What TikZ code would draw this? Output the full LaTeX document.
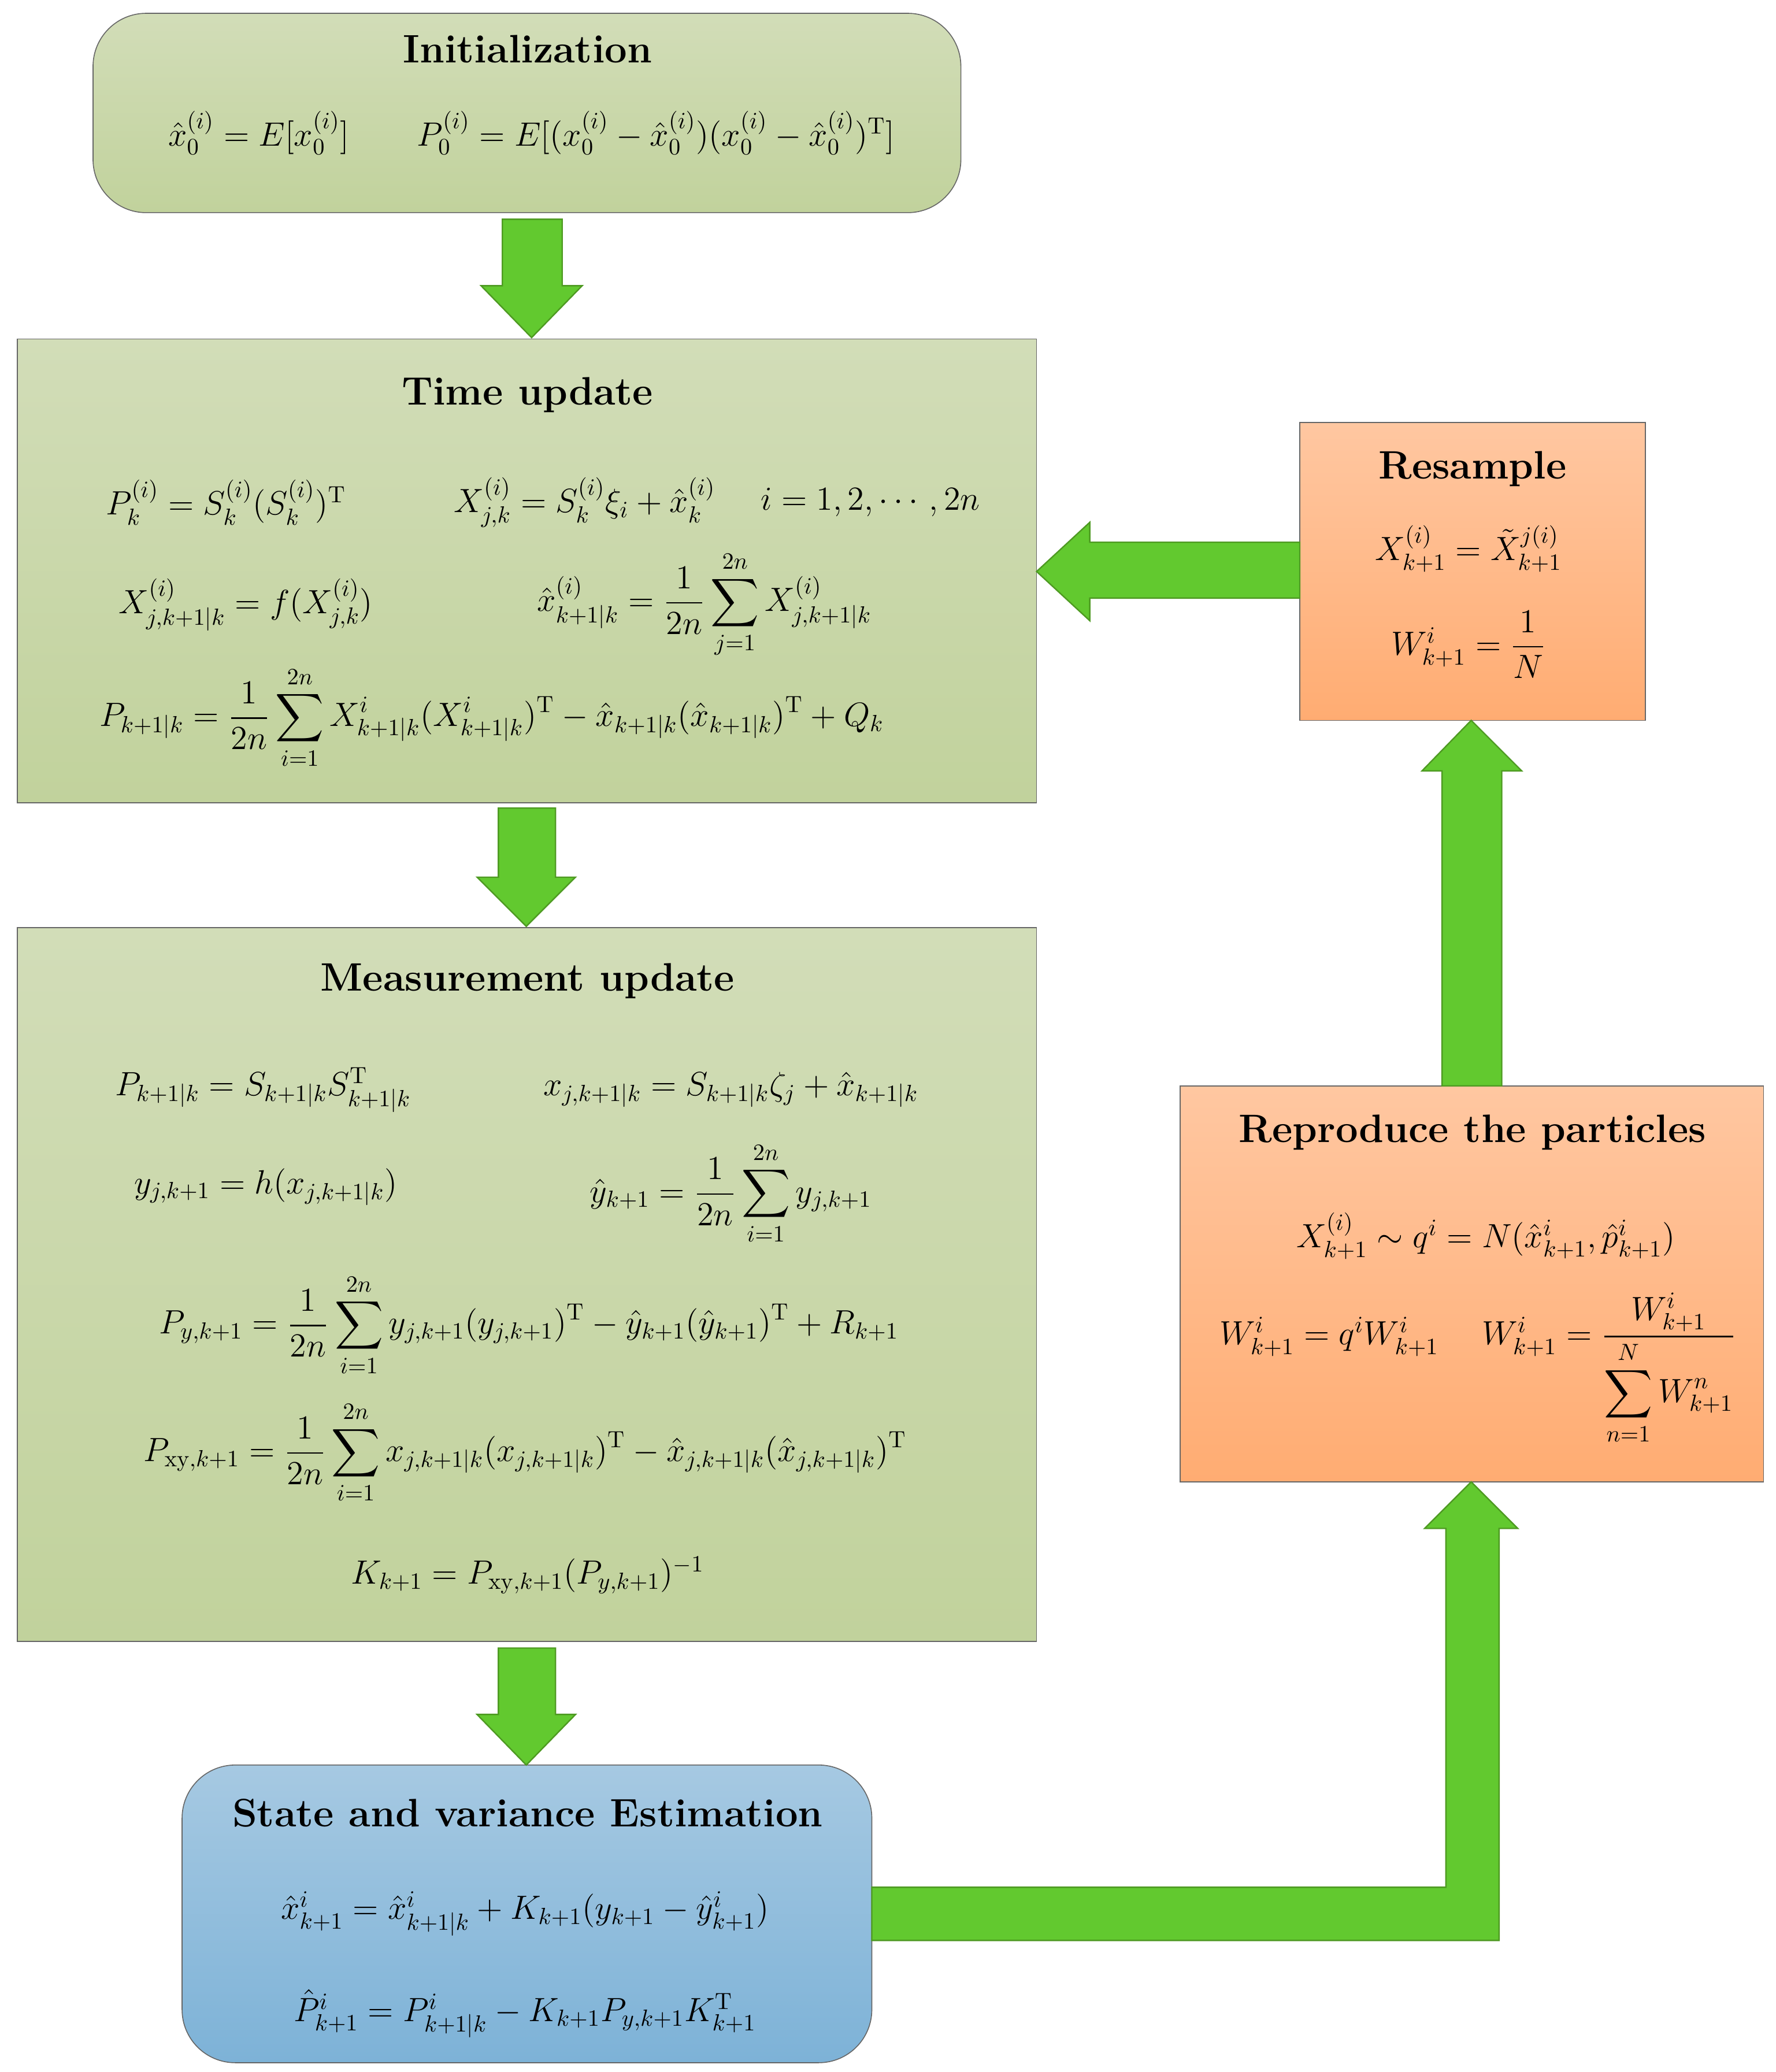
\documentclass[tikz,border=0pt]{standalone}
\usepackage{amsmath}
\usetikzlibrary{calc,positioning}
\definecolor{gtop}{HTML}{D2DDB8}
\definecolor{gbot}{HTML}{C1D29C}
\definecolor{otop}{HTML}{FFC7A1}
\definecolor{obot}{HTML}{FFAC72}
\definecolor{btop}{HTML}{A6C9E2}
\definecolor{bbot}{HTML}{7DB2D7}
\definecolor{arrfill}{HTML}{62C92F}
\definecolor{arrline}{HTML}{4E9A22}
\tikzset{
	gbox/.style={draw=black!60, top color=gtop, bottom color=gbot},
	obox/.style={draw=black!60, top color=otop, bottom color=obot},
	bbox/.style={draw=black!60, top color=btop, bottom color=bbot},
	ttl/.style={font=\fontsize{17}{20}\selectfont\bfseries, inner sep=1pt},
	eq/.style={font=\fontsize{14.5}{17}\selectfont, inner sep=1pt},
	garrow/.style={fill=arrfill, draw=arrline, line width=0.6pt}
}
\begin{document}
\begin{tikzpicture}[x=0.02cm, y=-0.02cm]
	\useasboundingbox (0,0) rectangle (1336,1559);
	% boxes
	\draw[gbox, rounded corners=0.8cm] (70,10) rectangle (723,160);
	\draw[gbox] (13,255) rectangle (780,604);
	\draw[gbox] (13,698) rectangle (780,1235);
	\draw[bbox, rounded corners=0.8cm] (137,1328) rectangle (656,1552);
	\draw[obox] (978,318) rectangle (1238,542);
	\draw[obox] (888,817) rectangle (1327,1115);

	% arrows
	\draw[garrow] (378,165) -- (423,165) -- (423,215) -- (438,215) -- (400,254) -- (362,215) -- (378,215) -- cycle;
	\draw[garrow] (375,608) -- (418,608) -- (418,660) -- (433,660) -- (396,697) -- (359,660) -- (375,660) -- cycle;
	\draw[garrow] (375,1240) -- (418,1240) -- (418,1290) -- (433,1290) -- (396,1328) -- (359,1290) -- (375,1290) -- cycle;
	\draw[garrow] (656,1420) -- (1088,1420) -- (1088,1150) -- (1072,1150) -- (1107,1115) -- (1142,1150) -- (1128,1150) -- (1128,1460) -- (656,1460) -- cycle;
	\draw[garrow] (1085,817) -- (1085,580) -- (1070,580) -- (1107,542) -- (1145,580) -- (1130,580) -- (1130,817) -- cycle;
	\draw[garrow] (978,408) -- (820,408) -- (820,393) -- (780,430) -- (820,467) -- (820,450) -- (978,450) -- cycle;

	% Initialization
	\node[ttl] (initT) at (397,37) {Initialization};
	\node[eq] (initA) at (400,100) {$\hat{x}_0^{(i)} = E[x_0^{(i)}] \qquad P_0^{(i)} = E[(x_0^{(i)}-\hat{x}_0^{(i)})(x_0^{(i)}-\hat{x}_0^{(i)})^{\mathrm{T}}]$};

	% Time update
	\node[ttl] (timeT) at (397,297) {Time update};
	\node[eq] (timeA) at (170,378) {$P_k^{(i)} = S_k^{(i)}(S_k^{(i)})^{\mathrm{T}}$};
	\node[eq] (timeB) at (440,378) {$X_{j,k}^{(i)} = S_k^{(i)}\xi_i+\hat{x}_k^{(i)}$};
	\node[eq] (timeC) at (655,378) {$i=1,2,\cdots,2n$};
	\node[eq] (timeD) at (185,455) {$X_{j,k+1|k}^{(i)} = f(X_{j,k}^{(i)})$};
	\node[eq] (timeE) at (530,455) {$\hat{x}_{k+1|k}^{(i)} = \dfrac{1}{2n}\displaystyle\sum_{j=1}^{2n} X^{(i)}_{j,k+1|k}$};
	\node[eq] (timeF) at (370,540) {$P_{k+1|k} = \dfrac{1}{2n}\displaystyle\sum_{i=1}^{2n} X^i_{k+1|k}(X^i_{k+1|k})^{\mathrm{T}} - \hat{x}_{k+1|k}(\hat{x}_{k+1|k})^{\mathrm{T}} + Q_k$};

	% Measurement update
	\node[ttl] (measT) at (397,738) {Measurement update};
	\node[eq] (measA) at (198,820) {$P_{k+1|k} = S_{k+1|k}S^{\mathrm{T}}_{k+1|k}$};
	\node[eq] (measB) at (550,820) {$x_{j,k+1|k} = S_{k+1|k}\zeta_j+\hat{x}_{k+1|k}$};
	\node[eq] (measC) at (200,893) {$y_{j,k+1} = h(x_{j,k+1|k})$};
	\node[eq] (measD) at (550,898) {$\hat{y}_{k+1} = \dfrac{1}{2n}\displaystyle\sum_{i=1}^{2n} y_{j,k+1}$};
	\node[eq] (measE) at (398,997) {$P_{y,k+1} = \dfrac{1}{2n}\displaystyle\sum_{i=1}^{2n} y_{j,k+1}(y_{j,k+1})^{\mathrm{T}} - \hat{y}_{k+1}(\hat{y}_{k+1})^{\mathrm{T}} + R_{k+1}$};
	\node[eq] (measF) at (395,1093) {$P_{\mathrm{xy},k+1} = \dfrac{1}{2n}\displaystyle\sum_{i=1}^{2n} x_{j,k+1|k}(x_{j,k+1|k})^{\mathrm{T}} - \hat{x}_{j,k+1|k}(\hat{x}_{j,k+1|k})^{\mathrm{T}}$};
	\node[eq] (measG) at (397,1185) {$K_{k+1} = P_{\mathrm{xy},k+1}(P_{y,k+1})^{-1}$};

	% State and variance Estimation
	\node[ttl] (estT) at (397,1364) {State and variance Estimation};
	\node[eq] (estA) at (395,1440) {$\hat{x}^i_{k+1} = \hat{x}^i_{k+1|k} + K_{k+1}(y_{k+1}-\hat{y}^i_{k+1})$};
	\node[eq] (estB) at (395,1515) {$\hat{P}^i_{k+1} = P^i_{k+1|k} - K_{k+1}P_{y,k+1}K^{\mathrm{T}}_{k+1}$};

	% Resample
	\node[ttl] (resT) at (1108,353) {Resample};
	\node[eq] (resA) at (1105,413) {$X^{(i)}_{k+1} = \tilde{X}^{j(i)}_{k+1}$};
	\node[eq] (resB) at (1105,485) {$W^i_{k+1} = \dfrac{1}{N}$};

	% Reproduce the particles
	\node[ttl] (repT) at (1108,852) {Reproduce the particles};
	\node[eq] (repA) at (1118,930) {$X^{(i)}_{k+1}\sim q^i = N(\hat{x}^i_{k+1},\hat{p}^i_{k+1})$};
	\node[eq] (repB) at (1112,1030) {$W^i_{k+1} = q^iW^i_{k+1} \quad\; W^i_{k+1} = \dfrac{W^i_{k+1}}{\displaystyle\sum_{n=1}^{N} W^n_{k+1}}$};
\end{tikzpicture}
\end{document}
